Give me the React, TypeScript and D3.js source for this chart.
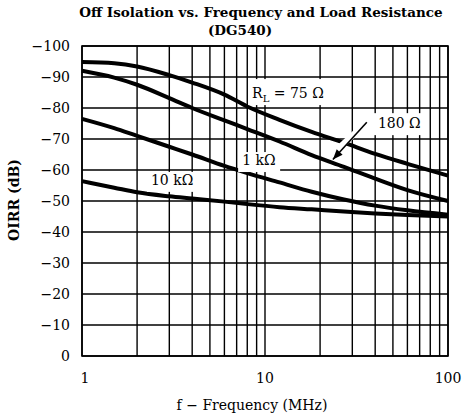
import { useEffect, useRef } from 'react'
import * as d3 from 'd3'

// frequency (MHz) samples
const freq = [1, 1.5, 2, 3, 4, 6, 8, 12, 18, 27, 40, 60, 100]
// OIRR (dB) per load resistance
const r75 = [-94.8, -94.4, -93.4, -90.6, -88.2, -84.3, -80.5, -76.2, -72.3, -68.8, -65.2, -62, -58.2]
const r180 = [-92, -89.8, -87.5, -83.2, -80, -76, -73.2, -69.2, -64.8, -61, -57.2, -53.5, -50]
const r1k = [-76.5, -73.5, -71, -67.5, -65, -61.3, -59, -56, -53, -50.5, -48.5, -47, -45.6]
const r10k = [-56.4, -54.3, -52.8, -51.5, -50.8, -49.8, -49, -48, -47.3, -46.6, -46, -45.5, -45]

const series = [r75, r180, r1k, r10k]
const yTicks = [-100, -90, -80, -70, -60, -50, -40, -30, -20, -10, 0]
const xGrid = [1, 2, 3, 4, 5, 6, 7, 8, 9, 10, 20, 30, 40, 50, 60, 70, 80, 90, 100]
const xTicks = [1, 10, 100]

const W = 463
const H = 420
const margin = { top: 46, right: 15, bottom: 64, left: 82 }
const font = "'DejaVu Serif', 'Liberation Serif', 'Times New Roman', serif"

export default function App() {
  const svgRef = useRef<SVGSVGElement>(null)

  useEffect(() => {
    if (!svgRef.current) return
    const root = d3.select(svgRef.current)
    root.selectAll('*').remove()

    const iw = W - margin.left - margin.right
    const ih = H - margin.top - margin.bottom

    const x = d3.scaleLog().domain([1, 100]).range([0, iw])
    const y = d3.scaleLinear().domain([0, -100]).range([ih, 0])

    const g = root.append('g').attr('transform', `translate(${margin.left},${margin.top})`)

    // grid
    g.selectAll('line.hg')
      .data(yTicks)
      .enter()
      .append('line')
      .attr('x1', 0)
      .attr('x2', iw)
      .attr('y1', (d) => y(d))
      .attr('y2', (d) => y(d))
      .attr('stroke', '#000')
      .attr('stroke-width', 1.4)

    g.selectAll('line.vg')
      .data(xGrid)
      .enter()
      .append('line')
      .attr('x1', (d) => x(d))
      .attr('x2', (d) => x(d))
      .attr('y1', 0)
      .attr('y2', ih)
      .attr('stroke', '#000')
      .attr('stroke-width', 1.4)

    // curves
    const line = d3
      .line<number>()
      .x((_, i) => x(freq[i]))
      .y((d) => y(d))
      .curve(d3.curveMonotoneX)

    g.selectAll('path.curve')
      .data(series)
      .enter()
      .append('path')
      .attr('d', (d) => line(d))
      .attr('fill', 'none')
      .attr('stroke', '#000')
      .attr('stroke-width', 4)

    // labels with white backing
    const labels = [
      { f: 8.5, v: -83.2, w: 88, h: 26, text: 'RL' },
      { f: 41.4, v: -73.5, w: 50, h: 22, text: '180 Ω' },
      { f: 7.5, v: -61.6, w: 42, h: 20, text: '1 kΩ' },
      { f: 2.38, v: -55.2, w: 50, h: 20, text: '10 kΩ' },
    ]
    labels.forEach((l) => {
      const lx = x(l.f)
      const ly = y(l.v)
      g.append('rect')
        .attr('x', lx - 4)
        .attr('y', ly - l.h + 7)
        .attr('width', l.w)
        .attr('height', l.h)
        .attr('fill', '#fff')
      const t = g
        .append('text')
        .attr('x', lx)
        .attr('y', ly)
        .attr('font-family', font)
        .attr('font-size', 14)
      if (l.text === 'RL') {
        t.append('tspan').text('R')
        t.append('tspan').attr('font-size', 10).attr('dy', 4).text('L')
        t.append('tspan').attr('dy', -4).text(' = 75 Ω')
      } else {
        t.text(l.text)
      }
    })

    // arrow to 180 Ω curve
    const ax1 = x(36)
    const ay1 = y(-75.4)
    const ax2 = x(23.5)
    const ay2 = y(-63.4)
    g.append('line')
      .attr('x1', ax1)
      .attr('y1', ay1)
      .attr('x2', ax2)
      .attr('y2', ay2 - 6)
      .attr('stroke', '#fff')
      .attr('stroke-width', 6)
    g.append('line')
      .attr('x1', ax1)
      .attr('y1', ay1)
      .attr('x2', ax2)
      .attr('y2', ay2)
      .attr('stroke', '#000')
      .attr('stroke-width', 1.6)
    const ang = Math.atan2(ay2 - ay1, ax2 - ax1)
    const hl = 10
    const hw = 4
    const bx = ax2 - hl * Math.cos(ang)
    const by = ay2 - hl * Math.sin(ang)
    g.append('path')
      .attr(
        'd',
        `M${ax2},${ay2}L${bx + hw * Math.sin(ang)},${by - hw * Math.cos(ang)}L${bx - hw * Math.sin(ang)},${by + hw * Math.cos(ang)}Z`
      )
      .attr('fill', '#000')

    // frame
    g.append('rect')
      .attr('width', iw)
      .attr('height', ih)
      .attr('fill', 'none')
      .attr('stroke', '#000')
      .attr('stroke-width', 1.6)

    // tick labels
    g.selectAll('text.yt')
      .data(yTicks)
      .enter()
      .append('text')
      .attr('x', -12)
      .attr('y', (d) => y(d) + 5)
      .attr('text-anchor', 'end')
      .attr('font-family', font)
      .attr('font-size', 14)
      .text((d) => (d < 0 ? `−${-d}` : `${d}`))

    g.selectAll('text.xt')
      .data(xTicks)
      .enter()
      .append('text')
      .attr('x', (d) => x(d) + (d === 1 ? 3 : 0))
      .attr('y', ih + 27)
      .attr('text-anchor', 'middle')
      .attr('font-family', font)
      .attr('font-size', 14)
      .text((d) => d)

    // axis titles
    root
      .append('text')
      .attr('x', 252)
      .attr('y', 410)
      .attr('text-anchor', 'middle')
      .attr('font-family', font)
      .attr('font-size', 14)
      .text('f − Frequency (MHz)')

    root
      .append('text')
      .attr('transform', `translate(19,200) rotate(-90)`)
      .attr('text-anchor', 'middle')
      .attr('font-family', font)
      .attr('font-weight', 'bold')
      .attr('font-size', 14)
      .text('OIRR (dB)')

    // title
    root
      .append('text')
      .attr('x', 261)
      .attr('y', 17)
      .attr('text-anchor', 'middle')
      .attr('font-family', font)
      .attr('font-weight', 'bold')
      .attr('font-size', 13.5)
      .text('Off Isolation vs. Frequency and Load Resistance')
    root
      .append('text')
      .attr('x', 240)
      .attr('y', 35)
      .attr('text-anchor', 'middle')
      .attr('font-family', font)
      .attr('font-weight', 'bold')
      .attr('font-size', 13.5)
      .text('(DG540)')
  }, [])

  return (
    <svg
      ref={svgRef}
      width={W}
      height={H}
      style={{ position: 'absolute', left: 0, top: 0, background: '#fff' }}
    />
  )
}
